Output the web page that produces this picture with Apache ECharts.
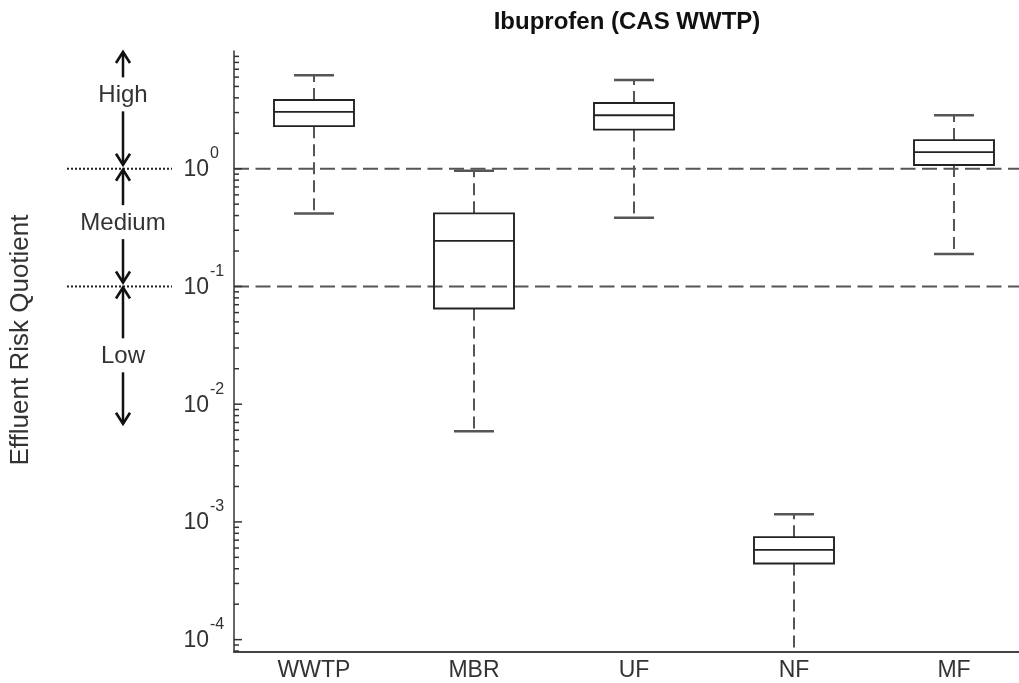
<!DOCTYPE html>
<html><head><meta charset="utf-8">
<script src="https://cdn.jsdelivr.net/npm/echarts@6/dist/echarts.min.js"></script>
<style>html,body{margin:0;padding:0;background:#fff}#c{width:1019px;height:683px}</style>
</head><body><div id="c"></div>
<script>
// ---- data ----
const categories = ['WWTP', 'MBR', 'UF', 'NF', 'MF'];
const whiskerLow  = [0.416, 0.0059, 0.384, 0.00005, 0.189];
const q1          = [2.30, 0.065, 2.15, 0.000443, 1.075];
const median      = [3.04, 0.244, 2.85, 0.000579, 1.385];
const q3          = [3.84, 0.418, 3.62, 0.000742, 1.75];
const whiskerHigh = [6.22, 0.96, 5.68, 0.00116, 2.85];
const thresholds = [1, 0.1];
const majorExponents = [-4, -3, -2, -1, 0];
const minorMultipliers = [2, 3, 4, 5, 6, 7, 8, 9];
const riskBands = ['High', 'Medium', 'Low'];
const bandTop = [10, 1, 0.1];
const bandBottom = [1, 0.1, 0.0063];
const bandLabelAt = [4.2, 0.345, 0.0255];
const titleText = 'Ibuprofen (CAS WWTP)';
const yAxisTitle = 'Effluent Risk Quotient';

// ---- chart ----
const FONT = '"Liberation Sans", Arial, Helvetica, sans-serif';
const yMin = Math.pow(10, -4.105), yMax = 10;

const boxData = categories.map((c, i) => [i, whiskerLow[i], q1[i], median[i], q3[i], whiskerHigh[i]]);
const thresholdData = thresholds.map(v => [0, v]);
const tickData = [];
majorExponents.forEach(e => tickData.push([0, Math.pow(10, e), 1, e]));
for (let e = -5; e <= 0; e++) {
  minorMultipliers.forEach(m => {
    const v = m * Math.pow(10, e);
    if (v >= yMin && v <= yMax) tickData.push([0, v, 0, e]);
  });
}
const bandData = riskBands.map((n, i) => [0, bandTop[i], bandBottom[i], bandLabelAt[i], i]);

function txt(x, y, text, size, align, valign, weight) {
  return {
    type: 'text', x: x, y: y,
    style: {
      text: text, font: (weight || 'normal') + ' ' + size + 'px ' + FONT, fill: '#333',
      align: align, textAlign: align, verticalAlign: valign, textVerticalAlign: valign
    }
  };
}
function seg(x1, y1, x2, y2, stroke, w, dash) {
  const s = { stroke: stroke, lineWidth: w };
  if (dash) s.lineDash = dash;
  return { type: 'line', shape: { x1: x1, y1: y1, x2: x2, y2: y2 }, style: s };
}

function renderBox(params, api) {
  const i = api.value(0);
  const pLow = api.coord([i, api.value(1)]);
  const yQ1 = api.coord([i, api.value(2)])[1];
  const yMed = api.coord([i, api.value(3)])[1];
  const yQ3 = api.coord([i, api.value(4)])[1];
  const yHigh = api.coord([i, api.value(5)])[1];
  const yLow = pLow[1];
  const cx = pLow[0];
  const band = api.size([1, 0])[0];
  const bw = band * 0.5, cw = band * 0.25;
  const wc = '#555', dash = [12, 6];
  return {
    type: 'group',
    children: [
      seg(cx, yQ1, cx, yLow, wc, 2, dash),
      seg(cx, yQ3, cx, yHigh, wc, 2, dash),
      seg(cx - cw / 2, yLow, cx + cw / 2, yLow, wc, 2.5),
      seg(cx - cw / 2, yHigh, cx + cw / 2, yHigh, wc, 2.5),
      { type: 'rect', shape: { x: cx - bw / 2, y: yQ3, width: bw, height: yQ1 - yQ3 },
        style: { fill: 'none', stroke: '#222', lineWidth: 1.9 } },
      seg(cx - bw / 2, yMed, cx + bw / 2, yMed, '#222', 1.9)
    ]
  };
}

function renderThreshold(params, api) {
  const cs = params.coordSys;
  const y = api.coord([0, api.value(1)])[1];
  return {
    type: 'group',
    children: [
      seg(cs.x, y, cs.x + cs.width, y, '#555', 2, [15, 6.5]),
      seg(cs.x - 167, y, cs.x - 62, y, '#222', 2, [2, 2])
    ]
  };
}

function renderTick(params, api) {
  const cs = params.coordSys;
  const y = api.coord([0, api.value(1)])[1];
  const major = api.value(2) === 1;
  const x0 = cs.x;
  const children = [seg(x0, y, x0 + (major ? 8 : 5), y, '#333', 1.5)];
  if (major) {
    children.push(txt(x0 - 25, y + 1, '10', 23, 'right', 'middle'));
    children.push(txt(x0 - 24, y - 15, String(api.value(3)), 16, 'left', 'middle'));
  }
  return { type: 'group', children: children };
}

function arrowHead(x, tip, dir) {
  // dir = -1 for up, +1 for down
  return {
    type: 'polyline',
    shape: { points: [[x - 7, tip - dir * 11], [x, tip], [x + 7, tip - dir * 11]] },
    style: { stroke: '#111', lineWidth: 2.6, fill: 'none' }
  };
}

function renderBand(params, api) {
  const cs = params.coordSys;
  const x = cs.x - 111;
  const yTop = api.coord([0, api.value(1)])[1];
  const yBot = api.coord([0, api.value(2)])[1];
  const yLab = api.coord([0, api.value(3)])[1];
  const idx = api.value(4);
  const upTip = yTop + 1, downTip = yBot - 4;
  return {
    type: 'group',
    children: [
      seg(x, yLab - 18, x, upTip, '#111', 2.5),
      arrowHead(x, upTip, -1),
      seg(x, yLab + 16, x, downTip, '#111', 2.5),
      arrowHead(x, downTip, 1),
      txt(x, yLab, riskBands[idx], 24, 'center', 'middle')
    ]
  };
}

const chart = echarts.init(document.getElementById('c'), null, { renderer: 'canvas' });
chart.setOption({
  animation: false,
  backgroundColor: '#fff',
  grid: { left: 234, top: 51, width: 800, height: 601, containLabel: false, outerBoundsMode: 'none' },
  xAxis: {
    type: 'category', data: categories,
    axisLine: { lineStyle: { color: '#444', width: 2 } },
    axisTick: { show: false },
    axisLabel: { fontSize: 23, color: '#333', fontFamily: FONT, margin: 7 },
    splitLine: { show: false }
  },
  yAxis: {
    type: 'log', logBase: 10, min: yMin, max: yMax,
    axisLine: { show: true, lineStyle: { color: '#333', width: 1.5 } },
    axisTick: { show: false }, axisLabel: { show: false },
    splitLine: { show: false }, minorTick: { show: false }, minorSplitLine: { show: false }
  },
  graphic: [
    { type: 'text', x: 627, y: 22, style: { text: titleText, font: 'bold 24px ' + FONT, fill: '#111', align: 'center', textAlign: 'center', verticalAlign: 'middle', textVerticalAlign: 'middle' } },
    { type: 'text', x: 21, y: 340, rotation: Math.PI / 2, style: { text: yAxisTitle, font: '26px ' + FONT, fill: '#333', align: 'center', textAlign: 'center', verticalAlign: 'middle', textVerticalAlign: 'middle' } }
  ],
  series: [
    { type: 'custom', name: 'thresholds', renderItem: renderThreshold, data: thresholdData, encode: { x: 0, y: 1 }, clip: false, silent: true, z: 1 },
    { type: 'custom', name: 'boxes', renderItem: renderBox, data: boxData, encode: { x: 0, y: [1, 2, 3, 4, 5] }, clip: true, z: 2 },
    { type: 'custom', name: 'ticks', renderItem: renderTick, data: tickData, encode: { x: 0, y: 1 }, clip: false, silent: true, z: 3 },
    { type: 'custom', name: 'bands', renderItem: renderBand, data: bandData, encode: { x: 0, y: 1 }, clip: false, silent: true, z: 3 }
  ]
});
</script>
</body></html>
